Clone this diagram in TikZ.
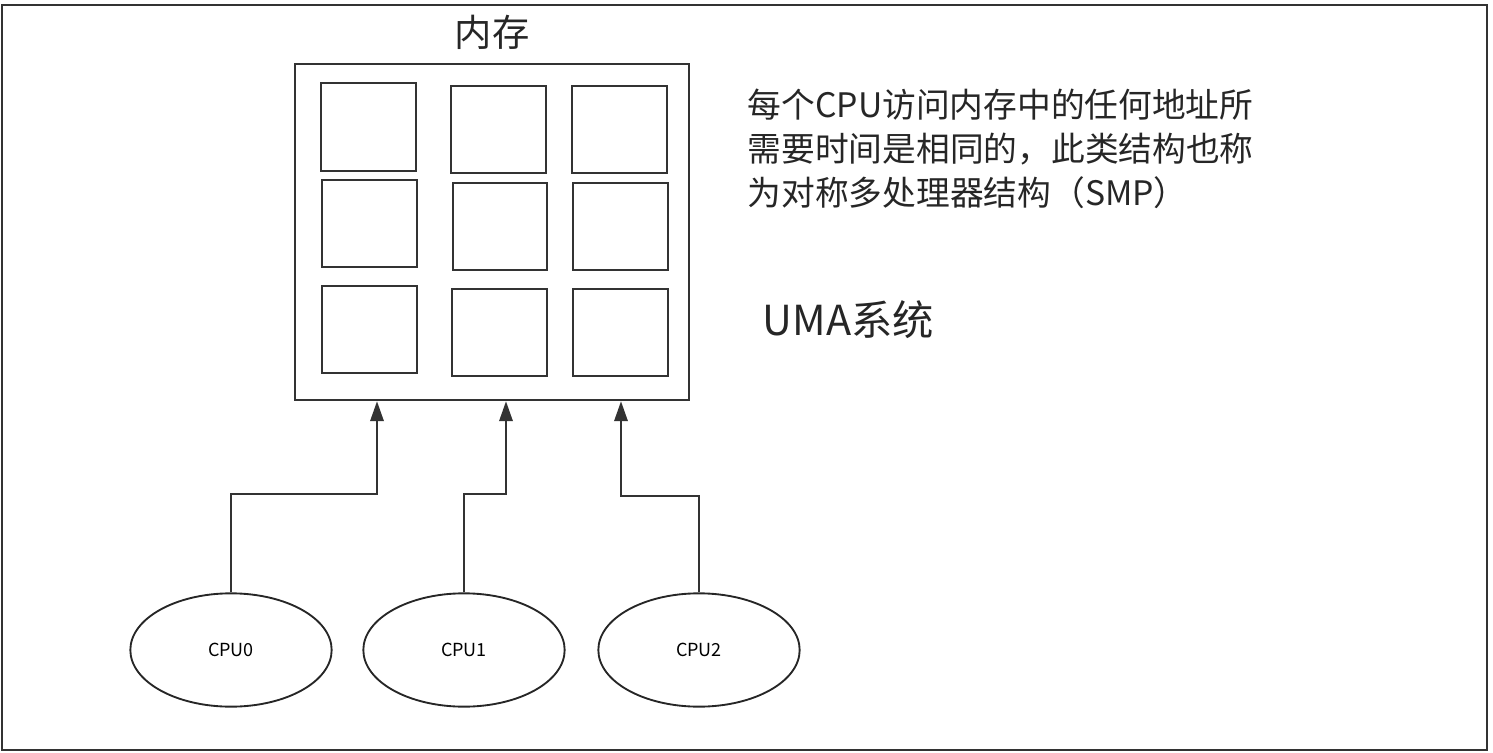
\documentclass[tikz,border=0pt]{standalone}
\usepackage{fontspec}
\newfontfamily\cjk{Noto Sans CJK SC}
\usetikzlibrary{arrows.meta,shapes.geometric}

\begin{document}
\begin{tikzpicture}[x=0.75pt,y=-0.75pt,
    frame/.style={draw=black!80,line width=1.8pt},
    cell/.style={draw=black!80,line width=1.8pt},
    cpu/.style={ellipse,draw=black!85,line width=1.4pt,minimum width=151pt,minimum height=85pt,font=\cjk\fontsize{13.5}{16}\selectfont},
    link/.style={draw=black!80,line width=1.8pt,-{Triangle[length=15pt,width=10pt]}},
    ]
    \useasboundingbox (0,0) rectangle (1493,753);
    % Outer frame
    \draw[frame] (2,5) rectangle (1487,750);

    % Memory block
    \node[frame,inner sep=0pt,minimum width=295.5pt,minimum height=252pt] (mem) at (492,232) {};
    \node[font=\cjk\fontsize{28}{32}\selectfont,text=black!85] (memlabel) at (492,32) {内存};
    \foreach \xa/\ya/\xb/\yb in {321/83/416/171, 451/86/546/173, 572/86/667/173,
                                 322/180/417/267, 453/183/547/270, 573/183/668/270,
                                 322/286/417/373, 452/289/547/376, 573/289/668/376}
        \draw[cell] (\xa,\ya) rectangle (\xb,\yb);

    % CPUs
    \node[cpu] (cpu0) at (231,650) {CPU0};
    \node[cpu] (cpu1) at (464,650) {CPU1};
    \node[cpu] (cpu2) at (699,650) {CPU2};

    % Bends of the connectors
    \coordinate (b0) at (377,494);
    \coordinate (b1) at (506,494);
    \coordinate (b2) at (621,496);

    \draw[link] (cpu0.north) |- (b0) -- (b0 |- mem.south);
    \draw[link] (cpu1.north) |- (b1) -- (b1 |- mem.south);
    \draw[link] (cpu2.north) |- (b2) -- (b2 |- mem.south);

    % Notes
    \node[anchor=west,align=left,text=black!85,font=\cjk\fontsize{25.3}{33}\selectfont] (note) at (743,149)
        {每个CPU访问内存中的任何地址所\\需要时间是相同的，此类结构也称\\为对称多处理器结构（SMP）};
    \node[anchor=west,text=black!85,font=\cjk\fontsize{31}{36}\selectfont] (uma) at (758,320) {UMA系统};
\end{tikzpicture}
\end{document}
